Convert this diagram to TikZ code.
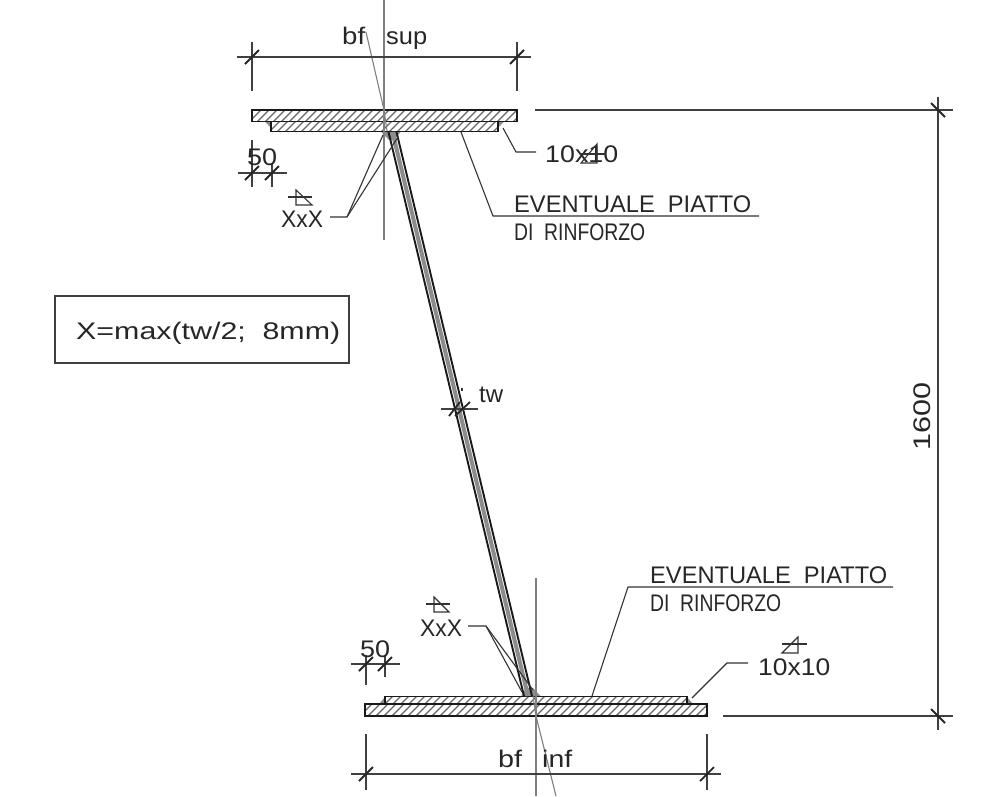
\documentclass[tikz,border=0pt]{standalone}
\usepackage{graphicx}
\usepackage{fontspec}
\setmainfont{Liberation Sans}
\newcommand{\fitw}[2]{\resizebox{#1pt}{\height}{#2}}
\newcommand{\gap}{\hspace{.55em}}
\begin{document}
\begin{tikzpicture}[x=1pt,y=-1pt,
  lbl/.style={inner sep=0pt,anchor=base west,font=\fontsize{24}{24}\selectfont,text=black!85},
  dimline/.style={line width=1.1pt,black!75},
  tick/.style={line width=1.8pt,black!85},
  axisline/.style={line width=1.1pt,black!50},
  leader/.style={line width=1.1pt,black!80},
  plate/.style={line width=1.9pt,black!90},
  hatchline/.style={line width=1.2pt,black!60},
  weldfill/.style={fill=black!45,draw=none}]
\useasboundingbox (0,0) rectangle (985,796);
% hatching
\begin{scope}
 \clip (252,110) rectangle (517,121.5);
 \foreach \i in {240,248,...,530}{\draw[hatchline] (\i,123)--(\i+15,108);}
\end{scope}
\begin{scope}
 \clip (271,121.5) rectangle (498,131.5);
 \foreach \i in {260,268,...,510}{\draw[hatchline] (\i,133)--(\i+15,118);}
\end{scope}
\begin{scope}
 \clip (385,696.5) rectangle (687,704);
 \foreach \i in {375,383,...,700}{\draw[hatchline] (\i,706)--(\i+15,691);}
\end{scope}
\begin{scope}
 \clip (365,704) rectangle (707,716);
 \foreach \i in {350,358,...,720}{\draw[hatchline] (\i,718)--(\i+15,703);}
\end{scope}
% welds
\fill[weldfill] (265,121.5)--(271,121.5)--(271,128)--cycle;
\fill[weldfill] (498,121.5)--(504,121.5)--(498,128)--cycle;
\fill[weldfill] (381,131.5)--(401,131.5)--(394,140)--(389,140)--cycle;
\fill[weldfill] (379,704)--(385,704)--(385,697)--cycle;
\fill[weldfill] (687,697)--(687,704)--(693,704)--cycle;
\fill[weldfill] (521,696.5)--(541,696.5)--(533,688)--(526,688)--cycle;
% plates
\draw[plate] (252,110) rectangle (517,121.5);
\draw[plate] (271,121.5) rectangle (498,131.5);
\draw[plate] (385,696.5) rectangle (687,704);
\draw[plate] (365,704) rectangle (707,716);
% web
\draw[line width=4pt,black!45] (392.5,132)--(528,696);
\draw[line width=1.9pt,black!90] (388.5,132)--(524,696);
\draw[line width=1.9pt,black!90] (396.5,132)--(532,696);
% axes
\draw[axisline] (384,0)--(384,240);
\draw[axisline] (366,32)--(384,110)--(387,131);
\draw[axisline] (536,578)--(536,796);
\draw[axisline] (533,696)--(536,716)--(556,796);
% top dim
\draw[dimline] (237,57)--(531,57);
\draw[dimline] (252,42)--(252,91);
\draw[dimline] (517,42)--(517,91);
\draw[tick] (245,64)--(259,50);
\draw[tick] (510,64)--(524,50);
\node[lbl] (bfs) at (342,44) {\fitw{23}{bf}};
\node[lbl] (sup) at (386,44) {\fitw{41}{sup}};
% bottom dim
\draw[dimline] (351,774)--(721,774);
\draw[dimline] (366,734)--(366,790);
\draw[dimline] (707,734)--(707,790);
\draw[tick] (359,781)--(373,767);
\draw[tick] (700,781)--(714,767);
\node[lbl] (bfi) at (498,767) {\fitw{24}{bf}};
\node[lbl] (inf) at (542,767) {\fitw{30}{inf}};
% right dim
\draw[dimline] (938,97)--(938,730);
\draw[dimline] (535,110)--(953,110);
\draw[dimline] (723,716)--(953,716);
\draw[tick] (931,103)--(945,117);
\draw[tick] (931,709)--(945,723);
\node[lbl,anchor=base,rotate=90] (h) at (930,416) {\fitw{68}{1600}};
% box
\node[draw=black!75,line width=1.1pt,minimum width=294pt,minimum height=67pt,inner sep=0pt] (box) at (202,329.5) {};
\node[lbl] (boxt) at (76,339) {\fitw{264}{X=max(tw/2;\gap 8mm)}};
% top 50
\draw[dimline] (238,173)--(287,173);
\draw[dimline] (252,140)--(252,187);
\draw[dimline] (272,163)--(272,187);
\draw[tick] (245,180)--(259,166);
\draw[tick] (265,180)--(279,166);
\node[lbl] (ft) at (247,165) {\fitw{30}{50}};
% bottom 50
\draw[dimline] (351,664)--(400,664);
\draw[dimline] (366,655)--(366,685);
\draw[dimline] (385,655)--(385,677);
\draw[tick] (359,671)--(373,657);
\draw[tick] (378,671)--(392,657);
\node[lbl] (fb) at (360,657) {\fitw{30}{50}};
% top XxX
\node[lbl] (xt) at (281,227) {\fitw{42}{XxX}};
\draw[leader] (330,217)--(347,217)--(383,135);
\draw[leader] (347,217)--(398,137);
\draw[leader] (288,197)--(312,197);
\draw[leader] (296,190)--(296,205)--(312,205)--cycle;
% bottom XxX
\node[lbl] (xb) at (420,636) {\fitw{42}{XxX}};
\draw[leader] (468,626)--(486,626)--(522,692);
\draw[leader] (486,626)--(533,690);
\draw[leader] (426,604)--(450,604);
\draw[leader] (434,597)--(434,612)--(449,612)--cycle;
% tw
\draw[dimline] (441,409)--(478,409);
\draw[tick] (449,416)--(460,402);
\draw[tick] (455,416)--(470,402);
\draw[leader] (462,388)--(462,391);
\node[lbl] (tw) at (479,402) {\fitw{24}{tw}};
% reinforcement labels
\draw[leader] (461,132)--(493,216)--(759,216);
\node[lbl] (et) at (514,212) {\fitw{237}{EVENTUALE\gap PIATTO}};
\node[lbl] (dt) at (514,240) {\fitw{131}{DI\gap RINFORZO}};
\draw[leader] (592,696)--(628,587)--(893,587);
\node[lbl] (eb) at (650,583) {\fitw{237}{EVENTUALE\gap PIATTO}};
\node[lbl] (db) at (650,611) {\fitw{131}{DI\gap RINFORZO}};
% 10x10 top
\draw[leader] (503,128)--(516,152)--(536,152);
\node[lbl] (tt) at (545,162) {\fitw{73}{10x10}};
\draw[leader] (580,154)--(606,154);
\draw[leader] (581,163)--(597,163)--(597,144)--cycle;
% 10x10 bottom
\draw[leader] (692,698)--(727,663)--(748,663);
\node[lbl] (tb) at (758,675) {\fitw{72}{10x10}};
\draw[leader] (782,644)--(807,644);
\draw[leader] (782,653)--(798,653)--(798,637)--cycle;
\end{tikzpicture}
\end{document}
